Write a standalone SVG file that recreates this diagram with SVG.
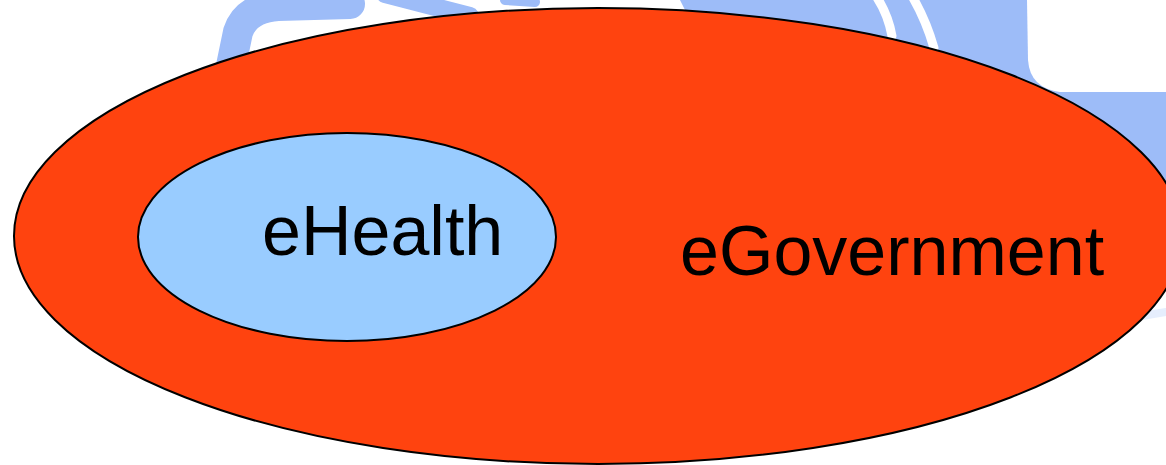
<svg xmlns="http://www.w3.org/2000/svg" width="1166" height="465" viewBox="0 0 1166 465">
  <style>
    .bg { fill: #9DBCF8; }
    .bgs { fill: none; stroke: #9DBCF8; stroke-linecap: round; stroke-linejoin: round; }
    .wh { fill: #FFFFFF; }
    .whs { fill: none; stroke: #FFFFFF; stroke-linecap: round; }
    .outer { fill: #FF430F; stroke: #000000; stroke-width: 2; }
    .inner { fill: #99CCFF; stroke: #000000; stroke-width: 2; }
    .label { font-family: "Liberation Sans", Arial, sans-serif; font-size: 70px; fill: #000000; }
  </style>
  <rect x="0" y="0" width="1166" height="465" fill="#FFFFFF"/>
  <g id="background">
    <path class="bgs" stroke-width="30" d="M 226 90 L 238 32 Q 246 8 278 6 L 350 4"/>
    <path class="bgs" stroke-width="18" d="M 385 -6 L 470 16"/>
    <path class="bgs" stroke-width="10" d="M 505 0 L 535 2"/>
    <path class="bg" d="M 680 0 L 1166 0 L 1166 210 L 1000 210 L 700 40 Z"/>
    <path class="whs" stroke-width="9" d="M 876 -4 Q 888 14 892 36"/>
    <path class="whs" stroke-width="9" d="M 912 -4 Q 926 20 934 48"/>
    <path class="wh" d="M 1027 0 L 1166 0 L 1166 92 L 1060 92 Q 1030 88 1028 60 Z"/>
    <path class="bgs" stroke-width="8" opacity="0.25" d="M 1130 318 L 1166 312"/>
  </g>
  <g id="node-egovernment">
    <ellipse class="outer" cx="598" cy="236" rx="584" ry="228"/>
    <text class="label" x="680" y="275">eGovernment</text>
  </g>
  <g id="node-ehealth">
    <ellipse class="inner" cx="347" cy="237" rx="209" ry="104"/>
    <text class="label" x="262" y="255">eHealth</text>
  </g>
  <g id="connectors"/>
</svg>
